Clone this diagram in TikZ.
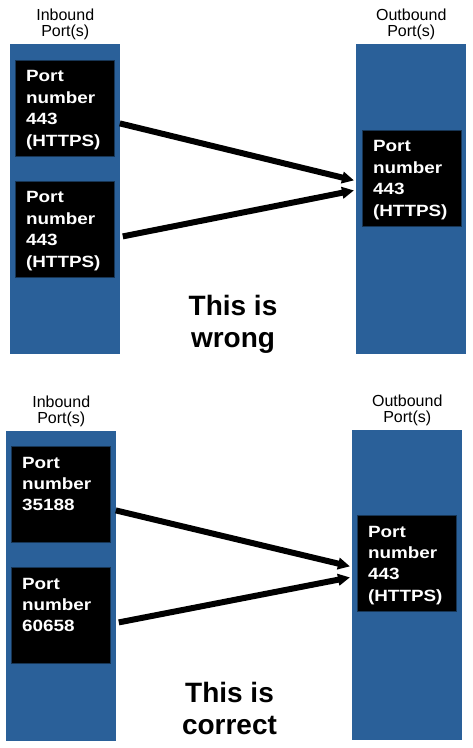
\documentclass[tikz,border=0pt]{standalone}
\usepackage{fontspec}
\setmainfont{Liberation Sans}
\newfontfamily\boxfont{Liberation Sans}[FakeStretch=1.16]
\usepackage{tikz}
\usetikzlibrary{arrows.meta, positioning}

\definecolor{portblue}{HTML}{2A6099}

\begin{document}
\begin{tikzpicture}[x=0.75pt, y=-0.75pt,
  portcol/.style={fill=portblue, inner sep=0pt, minimum width=82.5pt, minimum height=232.5pt, anchor=north west},
  portbox/.style={fill=black, draw=portblue!55!black, line width=0.6pt, text=white, anchor=north west,
    font=\boxfont\bfseries\fontsize{12.2}{16.1}\selectfont, align=left,
    inner xsep=8pt, inner ysep=7.5pt, text width=58.25pt, text height=8.7pt, text depth=48.3pt},
  collabel/.style={inner sep=0pt, align=center, font=\fontsize{12}{12}\selectfont},
  verdict/.style={inner sep=0pt, align=center, anchor=north, font=\bfseries\fontsize{21}{24}\selectfont},
  flow/.style={line width=4.5pt, -{Triangle[length=9pt, width=8.5pt]}}]
\useasboundingbox (0,0) rectangle (472,748);

% wrong
\node[portcol] (inA) at (10,44) {};
\node[portcol] (outA) at (356,44) {};
\node[collabel, above=3pt of inA] (lInA) {Inbound\\Port(s)};
\node[collabel, above=3pt of outA] (lOutA) {Outbound\\Port(s)};
\node[portbox] (pA1) at (15,60) {Port\\number\\443\\(HTTPS)};
\node[portbox] (pA2) at (15,181) {Port\\number\\443\\(HTTPS)};
\node[portbox] (pAout) at (362,130) {Port\\number\\443\\(HTTPS)};
\draw[flow] ([shift={(5,15)}]pA1.east) -- ([shift={(-8,2)}]pAout.west);
\draw[flow] ([shift={(8,7)}]pA2.east) -- ([shift={(-8,12)}]pAout.west);
\node[verdict] (vA) at (233,294.6) {This is\\wrong};

% correct
\node[portcol] (inB) at (6,431) {};
\node[portcol] (outB) at (352,430) {};
\node[collabel, above=3pt of inB] (lInB) {Inbound\\Port(s)};
\node[collabel, above=3pt of outB] (lOutB) {Outbound\\Port(s)};
\node[portbox] (pB1) at (11,446) {Port\\number\\35188};
\node[portbox] (pB2) at (11,567) {Port\\number\\60658};
\node[portbox] (pBout) at (357,515) {Port\\number\\443\\(HTTPS)};
\draw[flow] ([shift={(5,16)}]pB1.east) -- ([shift={(-7,3)}]pBout.west);
\draw[flow] ([shift={(8,7)}]pB2.east) -- ([shift={(-7,14)}]pBout.west);
\node[verdict] (vB) at (229.5,681.6) {This is\\correct};
\end{tikzpicture}
\end{document}
